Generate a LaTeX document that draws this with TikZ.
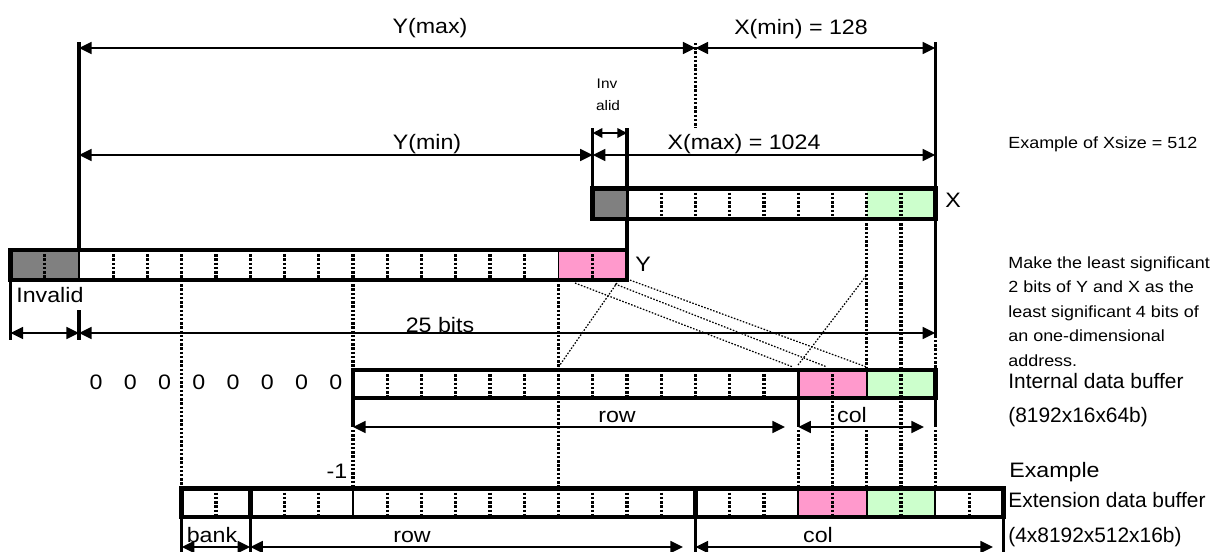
\documentclass[tikz,border=0pt]{standalone}
\usepackage{fontspec}
\setmainfont{Liberation Sans}
\newfontfamily\labelfont{Liberation Sans}[FakeStretch=1.11]
\usepackage{xcolor}
\usetikzlibrary{arrows.meta}

\definecolor{invgray}{HTML}{808080}
\definecolor{lsbpink}{HTML}{FF99CC}
\definecolor{lsbgreen}{HTML}{CCFFCC}

\begin{document}
\begin{tikzpicture}[x=0.02cm,y=-0.02cm,>={Triangle[length=7.2pt,width=6.8pt]},
  every node/.style={inner sep=0pt},
  reg/.style={line width=2.8pt},
  cdiv/.style={line width=1.9pt,dash pattern=on 1.4pt off 1pt},
  csolid/.style={line width=1.1pt},
  guide/.style={line width=1.8pt,dash pattern=on 1.4pt off 1pt},
  edge/.style={line width=1.9pt},
  map/.style={line width=0.7pt,dash pattern=on 0.9pt off 0.9pt},
  dim/.style={<->,line width=1pt},
  big/.style={font=\labelfont\fontsize{11.9}{14}\selectfont},
  side/.style={font=\fontsize{11.9}{14}\selectfont},
  small/.style={font=\labelfont\fontsize{9.2}{12}\selectfont},
  tiny/.style={font=\labelfont\fontsize{7.9}{10}\selectfont}]
  \useasboundingbox (0,0) rectangle (1216,551);
  % one column = one bit
  \foreach \k in {0,...,29} \coordinate (c\k) at ({10.5+34.25*\k},0);

  % guide lines
  \draw[edge] (c2 |- 0,42) -- (c2 |- 0,250);
  \draw[edge] (c27 |- 0,42) -- (c27 |- 0,188);
  \draw[edge] (c27 |- 0,219) -- (c27 |- 0,338);
  \draw[guide] (c27 |- 0,340) -- (c27 |- 0,370);
  \draw[edge] (c27 |- 0,398) -- (c27 |- 0,427);
  \draw[guide] (c27 |- 0,430) -- (c27 |- 0,488);
  \draw[guide] (c20 |- 0,43) -- (c20 |- 0,128);
  \draw[edge] (c17 |- 0,128) -- (c17 |- 0,188);
  \draw[edge] (c18 |- 0,128) -- (c18 |- 0,250);
  \draw[edge] (c0 |- 0,280) -- (c0 |- 0,340);
  \draw[edge] (c2 |- 0,310) -- (c2 |- 0,340);
  \draw[guide] (c5 |- 0,280) -- (c5 |- 0,488);
  \draw[guide] (c10 |- 0,280) -- (c10 |- 0,370);
  \draw[edge] (c10 |- 0,398) -- (c10 |- 0,427);
  \draw[guide] (c10 |- 0,430) -- (c10 |- 0,488);
  \draw[guide] (c16 |- 0,280) -- (c16 |- 0,370);
  \draw[guide] (c16 |- 0,401) -- (c16 |- 0,488);
  \draw[edge] (c23 |- 0,398) -- (c23 |- 0,427);
  \draw[guide] (c23 |- 0,430) -- (c23 |- 0,488);
  \draw[guide] (c24 |- 0,401) -- (c24 |- 0,488);
  \draw[guide] (c25 |- 0,219) -- (c25 |- 0,370);
  \draw[guide] (c25 |- 0,430) -- (c25 |- 0,488);
  \draw[guide] (c26 |- 0,219) -- (c26 |- 0,370);
  \draw[guide] (c26 |- 0,401) -- (c26 |- 0,488);
  \foreach \k in {5,7,20,29} \draw[edge] (c\k |- 0,517) -- (c\k |- 0,560);

  % bit mapping
  \draw[map] (575,283) -- (793,367);
  \draw[map] (615,284) -- (827,367);
  \draw[map] (c18 |- 0,279) -- (c25 |- 0,367);
  \draw[map] (c16 |- 0,367) -- (617,283);
  \draw[map] (798,365) -- (c25 |- 0,275);

  % X register
  \fill[invgray] (c17 |- 0,188.5) rectangle (c18 |- 0,219);
  \fill[lsbgreen] (c25 |- 0,188.5) rectangle (c27 |- 0,219);
  \foreach \k in {19,...,26} \draw[cdiv] (c\k |- 0,188.5) -- (c\k |- 0,219);
  \draw[csolid] (c18 |- 0,188.5) -- (c18 |- 0,219);
  \draw[reg] (c17 |- 0,188.5) rectangle (c27 |- 0,219);

  % Y register
  \fill[invgray] (c0 |- 0,250) rectangle (c2 |- 0,280);
  \fill[lsbpink] (c16 |- 0,250) rectangle (c18 |- 0,280);
  \foreach \k in {1,3,4,...,15,17} \draw[cdiv] (c\k |- 0,250) -- (c\k |- 0,280);
  \foreach \k in {2,16} \draw[csolid] (c\k |- 0,250) -- (c\k |- 0,280);
  \draw[reg] (c0 |- 0,250) rectangle (c18 |- 0,280);

  % internal data buffer
  \fill[lsbpink] (c23 |- 0,370) rectangle (c25 |- 0,398);
  \fill[lsbgreen] (c25 |- 0,370) rectangle (c27 |- 0,398);
  \foreach \k in {11,...,22,24,26} \draw[cdiv] (c\k |- 0,370) -- (c\k |- 0,398);
  \draw[edge] (c23 |- 0,370) -- (c23 |- 0,398);
  \draw[csolid] (c25 |- 0,370) -- (c25 |- 0,398);
  \draw[reg] (c10 |- 0,370) rectangle (c27 |- 0,398);

  % extension data buffer
  \fill[lsbpink] (c23 |- 0,488.5) rectangle (c25 |- 0,517);
  \fill[lsbgreen] (c25 |- 0,488.5) rectangle (c27 |- 0,517);
  \foreach \k in {6,8,9,11,12,...,19,21,22,24,26,28} \draw[cdiv] (c\k |- 0,488.5) -- (c\k |- 0,517);
  \foreach \k in {10,23,25,27} \draw[csolid] (c\k |- 0,488.5) -- (c\k |- 0,517);
  \foreach \k in {7,20} \draw[reg] (c\k |- 0,488.5) -- (c\k |- 0,517);
  \draw[reg] (c5 |- 0,488.5) rectangle (c29 |- 0,517);

  % dimensions
  \draw[dim] (c2 |- 0,48) -- (c20 |- 0,48);
  \draw[dim] (c20 |- 0,48) -- (c27 |- 0,48);
  \draw[<->,line width=0.9pt,>={Triangle[length=5.5pt,width=5.5pt]}] (c17 |- 0,133) -- (c18 |- 0,133);
  \draw[dim] (c2 |- 0,155) -- (c17 |- 0,155);
  \draw[dim] (c17 |- 0,155) -- (c27 |- 0,155);
  \draw[dim] (c0 |- 0,333) -- (c2 |- 0,333);
  \draw[dim] (c2 |- 0,333) -- (c27 |- 0,333);
  \draw[dim] (c10 |- 0,427) -- (785,427);
  \draw[dim] (c23 |- 0,427) -- (924,427);
  \draw[dim] (c5 |- 0,547) -- (c7 |- 0,547);
  \draw[dim] (c7 |- 0,547) -- (683,547);
  \draw[dim] (c20 |- 0,547) -- (993,547);

  % labels
  \node[big,anchor=base] (ymax) at (430,33) {Y(max)};
  \node[big,anchor=base] (xmin) at (801,34) {X(min) = 128};
  \node[tiny,anchor=base] (inv1) at (607,88) {Inv};
  \node[tiny,anchor=base] (inv2) at (608,110) {alid};
  \node[big,anchor=base] (ymin) at (427,149) {Y(min)};
  \node[big,anchor=base] (xmax) at (744,149) {X(max) = 1024};
  \node[small,anchor=base west] (xsize) at (1008,148) {Example of Xsize = 512};
  \node[big,anchor=base west] (xname) at (945,207) {X};
  \node[big,anchor=base west] (yname) at (635,271) {Y};
  \node[big,anchor=base west] (invalid) at (16,302) {Invalid};
  \node[big,anchor=base] (bits) at (440,332) {25 bits};
  \foreach \k in {2,...,9}
    \node[big,anchor=base] (zero\k) at ({10.5+34.25*(\k+0.5)},389) {0};
  \node[big,anchor=base] (irow) at (617,422) {row};
  \node[big,anchor=base] (icol) at (852,422) {col};
  \node[big,anchor=base] (minus) at (337,478) {-1};
  \node[big,anchor=base] (bank) at (212,542) {bank};
  \node[big,anchor=base] (erow) at (412,542) {row};
  \node[big,anchor=base] (ecol) at (818,542) {col};
  \foreach \t [count=\i] in {Make the least significant,2 bits of Y and X as the,least significant 4 bits of,an one-dimensional,address.}
    \node[small,anchor=base west] (note\i) at (1008,{268+24.6*(\i-1)}) {\t};
  \node[side,anchor=base west] (ibuf) at (1008,388) {Internal data buffer};
  \node[side,anchor=base west] (isize) at (1008,422) {(8192x16x64b)};
  \node[big,anchor=base west] (example) at (1009,477) {Example};
  \node[side,anchor=base west] (ebuf) at (1008,507) {Extension data buffer};
  \node[side,anchor=base west] (esize) at (1008,542) {(4x8192x512x16b)};
\end{tikzpicture}
\end{document}
